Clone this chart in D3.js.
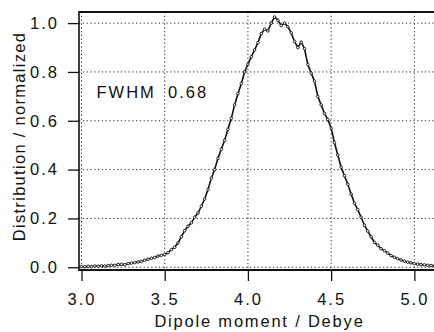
<!DOCTYPE html>
<html><head><meta charset="utf-8">
<script src="https://cdn.jsdelivr.net/npm/d3@7"></script>
<style>
html,body{margin:0;padding:0;background:#fff;}
svg{display:block;}
text{font-family:"Liberation Sans",Arial,sans-serif;fill:#111;}
</style></head>
<body>
<svg id="c" width="434" height="332"></svg>
<script>
// ---- data ----
const dipole = [3.00,3.02,3.04,3.06,3.08,3.10,3.12,3.14,3.16,3.18,3.20,3.22,3.24,3.26,3.28,3.30,3.32,3.34,3.36,3.38,
3.40,3.42,3.44,3.46,3.48,3.50,3.52,3.54,3.56,3.58,3.60,3.62,3.64,3.66,3.68,3.70,3.72,3.74,3.76,3.78,
3.80,3.82,3.84,3.86,3.88,3.90,3.92,3.94,3.96,3.98,4.00,4.02,4.04,4.06,4.08,4.10,4.12,4.14,4.16,4.18,
4.20,4.22,4.24,4.26,4.28,4.30,4.32,4.34,4.36,4.38,4.40,4.42,4.44,4.46,4.48,4.50,4.52,4.54,4.56,4.58,
4.60,4.62,4.64,4.66,4.68,4.70,4.72,4.74,4.76,4.78,4.80,4.82,4.84,4.86,4.88,4.90,4.92,4.94,4.96,4.98,
5.00,5.02,5.04,5.06,5.08,5.10,5.12];
const distribution = [.003,.002,.004,.003,.005,.004,.006,.005,.007,.008,.008,.011,.012,.011,.015,.017,.019,.022,.024,.029,
.033,.037,.040,.046,.049,.052,.060,.072,.082,.100,.125,.150,.168,.182,.205,.222,.250,.280,.318,.365,
.400,.446,.483,.520,.565,.610,.665,.711,.752,.800,.832,.862,.890,.920,.957,.975,.968,1.000,1.025,1.012,
.990,1.000,.985,.960,.925,.900,.922,.895,.830,.795,.762,.700,.665,.630,.605,.570,.510,.460,.410,.375,
.340,.300,.262,.236,.205,.172,.148,.125,.102,.090,.076,.068,.058,.048,.041,.035,.030,.025,.021,.018,
.015,.013,.011,.010,.008,.007,.006];
const xTicks = [3.0,3.5,4.0,4.5,5.0];
const yTicks = [0.0,0.2,0.4,0.6,0.8,1.0];
const xTitle = "Dipole moment / Debye";
const yTitle = "Distribution / normalized";
const annotLabel = "FWHM";
const annotValue = "0.68";

// ---- layout ----
const svg = d3.select("#c");
const L = 79, R = 434, T = 12, B = 270;
const x = d3.scaleLinear().domain([2.985, 5.118]).range([L, R]);
const y = d3.scaleLinear().domain([-0.0112, 1.0455]).range([B, T]);
const FS = "16.5px", LS = "2px";

// grid
const g = svg.append("g");
g.selectAll("line.gy").data(yTicks).enter().append("line")
  .attr("x1", L).attr("x2", R).attr("y1", d=>y(d)).attr("y2", d=>y(d))
  .attr("stroke", "#333").attr("stroke-width", 1).attr("stroke-dasharray", "1.3,2.5");
g.selectAll("line.gx").data(xTicks).enter().append("line")
  .attr("x1", d=>x(d)).attr("x2", d=>x(d)).attr("y1", T).attr("y2", B)
  .attr("stroke", "#333").attr("stroke-width", 1).attr("stroke-dasharray", "1.3,2.5");

// axes
const xAxis = d3.axisBottom(x).tickValues(xTicks).tickFormat(d3.format(".1f")).tickSize(11).tickPadding(12);
const yAxis = d3.axisLeft(y).tickValues(yTicks).tickFormat(d3.format(".1f")).tickSize(11).tickPadding(8);
const gx = svg.append("g").attr("transform", `translate(0,${B})`).call(xAxis);
const gy = svg.append("g").attr("transform", `translate(${L},0)`).call(yAxis);
[gx, gy].forEach(a => {
  a.select(".domain").remove();
  a.selectAll(".tick line").attr("stroke", "#111").attr("stroke-width", 1.3);
  a.selectAll(".tick text").style("font-family", "Liberation Sans, Arial, sans-serif")
    .style("font-size", FS).style("letter-spacing", LS).attr("fill", "#111");
});
gy.selectAll(".tick text").attr("dx", "-1px");

// frame lines
svg.append("line").attr("x1", L).attr("x2", R).attr("y1", T).attr("y2", T).attr("stroke", "#111").attr("stroke-width", 2);
svg.append("line").attr("x1", L).attr("x2", R).attr("y1", B).attr("y2", B).attr("stroke", "#111").attr("stroke-width", 2);
svg.append("line").attr("x1", L).attr("x2", L).attr("y1", T-1).attr("y2", B+1).attr("stroke", "#111").attr("stroke-width", 1.6);

// curve
const pts = dipole.map((d,i)=>[d, distribution[i]]);
svg.append("path").datum(pts)
  .attr("fill", "none").attr("stroke", "#111").attr("stroke-width", 1.6)
  .attr("d", d3.line().x(d=>x(d[0])).y(d=>y(d[1])));
svg.append("g").selectAll("circle").data(pts).enter().append("circle")
  .attr("cx", d=>x(d[0])).attr("cy", d=>y(d[1])).attr("r", 1.3)
  .attr("fill", "#fff").attr("stroke", "#111").attr("stroke-width", 0.9);

// annotation
svg.append("text").attr("x", 96.5).attr("y", 98.3).style("font-size", FS).style("letter-spacing", LS).text(annotLabel);
svg.append("text").attr("x", 168).attr("y", 98.3).style("font-size", FS).style("letter-spacing", LS).text(annotValue);

// titles
svg.append("text").attr("x", 259.5).attr("y", 327).attr("text-anchor", "middle")
  .style("font-size", FS).style("letter-spacing", "1.8px").text(xTitle);
svg.append("text").attr("transform", "translate(25,136.5) rotate(-90)").attr("text-anchor", "middle")
  .style("font-size", FS).style("letter-spacing", "1.3px").text(yTitle);
</script>
</body></html>
